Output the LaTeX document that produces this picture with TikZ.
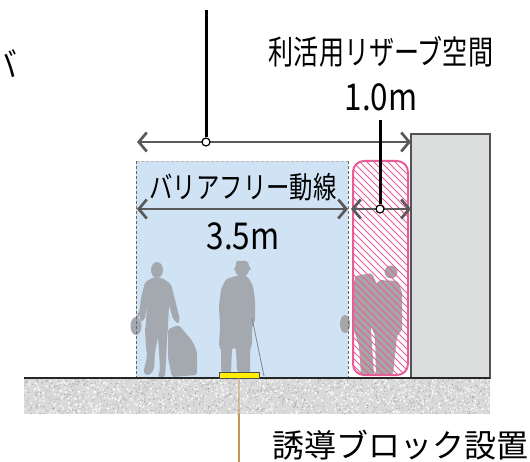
\documentclass[tikz,border=0pt]{standalone}
\usepackage{fontspec}
\setmainfont{Noto Sans CJK JP}
\usetikzlibrary{arrows.meta}

\definecolor{dimline}{RGB}{89,89,89}
\definecolor{zoneblue}{RGB}{208,227,244}
\definecolor{wallgray}{RGB}{220,221,221}
\definecolor{reservepink}{RGB}{232,92,152}
\definecolor{walkergray}{RGB}{164,169,175}
\definecolor{standgray}{RGB}{166,166,166}
\definecolor{guidebrown}{RGB}{200,145,85}
\definecolor{blockyellow}{RGB}{255,238,0}
\definecolor{groundbase}{RGB}{218,218,218}

\tikzset{
  dimarrow/.style={draw=dimline, line width=2.7pt,
    {Straight Barb[length=8pt,width=19pt]}-{Straight Barb[length=8pt,width=19pt]}},
  leader/.style={draw=black, line width=3pt},
  pin/.style={circle, draw=black, fill=white, line width=1.2pt, minimum size=8pt, inner sep=0pt},
  label/.style={inner sep=0pt, text=black},
  walker/.style={fill=walkergray, draw=none, rounded corners=2pt},
  stander/.style={fill=standgray, draw=none, rounded corners=2pt},
  zoneedge/.style={draw=gray!80!black, line width=0.9pt, dash pattern=on 3pt off 2pt},
}

\begin{document}
\begin{tikzpicture}[x=1pt,y=-1pt]
\useasboundingbox (0,0) rectangle (530,462);

% barrier-free walking zone
\fill[zoneblue] (136,161) rectangle (348,378);

% pedestrian with shoulder bag and suitcase
\fill[walkergray] (157,270) ellipse [x radius=6pt, y radius=8pt];
\path[walker] (154,277) -- (145,282) -- (141,298) -- (139,316) -- (141,322) -- (145,319)
  -- (147,303) -- (146,322) -- (145,330) -- (146,346) -- (147,356) -- (145,366) -- (143,372)
  -- (148,376) -- (154,370) -- (155,352) -- (158,337) -- (159,352) -- (160,369) -- (158,377)
  -- (165,377) -- (166,360) -- (167,340) -- (168,326) -- (169,305) -- (173,319) -- (178,324)
  -- (180,320) -- (175,300) -- (171,284) -- (162,278) -- cycle;
\draw[walkergray, line width=1.5pt] (152,282) -- (137,318);
\fill[walkergray] (136,326) ellipse [x radius=5.5pt, y radius=9pt];
\path[walker] (168,329) -- (179,325) -- (193,342) -- (197,352) -- (197,375) -- (172,377)
  -- (168,358) -- cycle;

% elderly pedestrian with cane
\fill[walkergray] (242,269) ellipse [x radius=7pt, y radius=8pt];
\path[walker] (236,261) -- (248,261) -- (249,267) -- (252,270) -- (233,270) -- (236,267) -- cycle;
\path[walker] (236,276) -- (226,279) -- (221,289) -- (219,306) -- (220,326) -- (219,347)
  -- (221,348) -- (221,372) -- (231,373) -- (232,348) -- (236,348) -- (237,372) -- (250,373)
  -- (250,348) -- (252,346) -- (252,326) -- (255,322) -- (255,300) -- (253,286) -- (248,277)
  -- (243,275) -- cycle;
\draw[walkergray!80!black, line width=0.8pt] (252,318) -- (264,376);

% people standing in the reserve space
\fill[standgray] (345,324) ellipse [x radius=5pt, y radius=9pt];
\path[stander] (355,276) -- (372,273) -- (376,282) -- (376,300) -- (373,313) -- (371,330)
  -- (374,375) -- (361,375) -- (359,346) -- (354,330) -- (352,302) -- (354,284) -- cycle;
\fill[standgray] (391,272) circle (6.5pt);
\path[stander] (379,280) -- (398,281) -- (402,292) -- (402,330) -- (397,336) -- (393,375)
  -- (376,375) -- (375,336) -- (371,326) -- (372,291) -- cycle;

% dashed outline of the walking zone
\draw[zoneedge, draw=gray!55] (136,161) -- (348,161);
\draw[zoneedge] (136,161) -- (136,378);
\draw[zoneedge] (348,161) -- (348,378);

% hatched reserve space
\begin{scope}
  \clip[rounded corners=11pt] (353,161) rectangle (408,375);
  \foreach \s in {0,7,...,300}
    \draw[reservepink, line width=0.8pt] (340+\s,380) -- (340+\s-230,150);
\end{scope}
\draw[reservepink, line width=2pt, rounded corners=11pt] (353,161) rectangle (408,375);

% building wall
\draw[fill=wallgray, draw=gray!65!black, line width=1.2pt] (411,134) rectangle (490,378);

% paved ground
\begin{scope}
  \clip (24,378) rectangle (490,414);
  \fill[groundbase] (24,378) rectangle (490,414);
  \pgfmathsetseed{17}
  \foreach \k in {1,...,1300}
    \fill[gray!80, opacity=0.6] ({24+466*rnd},{378+36*rnd}) circle (0.7pt);
  \foreach \k in {1,...,800}
    \fill[white, opacity=0.85] ({24+466*rnd},{378+36*rnd}) circle (1pt);
\end{scope}
\draw[black!85, line width=1.6pt] (24,378) -- (490,378);

% tactile guide block and its leader
\node[draw=gray!60!black, fill=blockyellow, line width=0.8pt, minimum width=40pt,
  minimum height=6pt, inner sep=0pt] (block) at (239,375) {};
\coordinate (groundlow) at (239,414);
\coordinate (guideend) at (239,462);
\draw[guidebrown, line width=2pt, opacity=0.45] (block.south) -- (groundlow);
\draw[guidebrown, line width=2pt] (groundlow) -- (guideend);

% overall width dimension
\coordinate (allL) at (137,142);
\coordinate (allR) at (411,142);
\draw[dimarrow] (allL) -- (allR);
\node[pin] (allpin) at (206,142) {};
\coordinate (alltop) at (206,10);
\draw[leader] (alltop) -- (allpin.north);

% walking zone dimension
\coordinate (bfL) at (137,209);
\coordinate (bfR) at (348,209);
\draw[dimarrow] (bfL) -- (bfR);

% reserve space dimension
\coordinate (rsL) at (351,209);
\coordinate (rsR) at (411,209);
\draw[dimarrow] (rsL) -- (rsR);
\node[pin] (rspin) at (380,209) {};
\coordinate (rstop) at (380,120);
\draw[leader] (rstop) -- (rspin.north);

% labels
\begin{scope}
  \clip (0,0) rectangle (530,462);
  \node[label, anchor=east, font=\fontsize{34}{34}\selectfont, xscale=0.85] (cut) at (18,64) {バ};
\end{scope}
\node[label, font=\fontsize{33}{33}\selectfont, xscale=0.76] (rslabel) at (381,52) {利活用リザーブ空間};
\node[label, font=\fontsize{37}{37}\selectfont, xscale=0.85] (rsval) at (381,97) {1.0m};
\node[label, font=\fontsize{30}{30}\selectfont, xscale=0.78] (bflabel) at (243,187) {バリアフリー動線};
\node[label, font=\fontsize{37}{37}\selectfont, xscale=0.85] (bfval) at (243,236) {3.5m};
\node[label, font=\fontsize{32}{32}\selectfont] (guidelabel) at (400,445) {誘導ブロック設置};
\end{tikzpicture}
\end{document}
